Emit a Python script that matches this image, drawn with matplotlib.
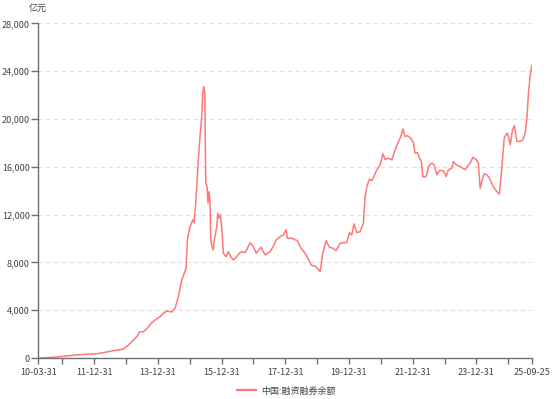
import matplotlib
matplotlib.use("Agg")
import matplotlib.pyplot as plt
import matplotlib.dates as mdates
import pandas as pd
from matplotlib.lines import Line2D

plt.rcParams['font.family'] = ['Noto Sans CJK SC', 'DejaVu Sans']

series_name = "中国:融资融券余额"
unit_label = "亿元"

dates = [
    "2010-03-31", "2010-09-19", "2010-12-24", "2011-07-22", "2012-01-30", "2012-07-01",
    "2012-12-01", "2013-01-27", "2013-03-25", "2013-05-03", "2013-06-02", "2013-07-18",
    "2013-08-26", "2013-10-22", "2013-11-29", "2014-01-25", "2014-03-04", "2014-04-12",
    "2014-06-08", "2014-07-16", "2014-08-23", "2014-10-01", "2014-11-19", "2014-12-04",
    "2015-01-04", "2015-02-04", "2015-02-19", "2015-03-10", "2015-04-09", "2015-04-28",
    "2015-05-18", "2015-05-30", "2015-06-10", "2015-06-22", "2015-07-03", "2015-07-18",
    "2015-07-29", "2015-08-10", "2015-08-21", "2015-08-29", "2015-09-13", "2015-09-28",
    "2015-10-09", "2015-11-06", "2015-11-17", "2015-12-02", "2015-12-17", "2016-01-02",
    "2016-01-21", "2016-02-21", "2016-03-18", "2016-04-15", "2016-05-15", "2016-06-23",
    "2016-07-23", "2016-08-20", "2016-09-27", "2016-11-23", "2016-12-31", "2017-01-31",
    "2017-03-26", "2017-05-14", "2017-07-10", "2017-08-17", "2017-09-17", "2017-11-01",
    "2017-12-09", "2018-01-09", "2018-01-24", "2018-03-15", "2018-05-18", "2018-06-27",
    "2018-08-15", "2018-09-22", "2018-10-23", "2018-12-19", "2019-02-03", "2019-03-06",
    "2019-04-13", "2019-05-21", "2019-06-29", "2019-08-05", "2019-09-21", "2019-10-28",
    "2019-12-06", "2020-01-05", "2020-02-01", "2020-02-27", "2020-03-29", "2020-05-06",
    "2020-06-13", "2020-07-03", "2020-07-23", "2020-08-22", "2020-09-19", "2020-10-15",
    "2020-11-15", "2020-12-23", "2021-01-23", "2021-02-18", "2021-03-16", "2021-05-06",
    "2021-06-13", "2021-07-20", "2021-08-17", "2021-09-09", "2021-10-05", "2021-11-01",
    "2021-12-10", "2022-01-08", "2022-01-27", "2022-02-23", "2022-03-17", "2022-04-09",
    "2022-04-25", "2022-05-22", "2022-06-11", "2022-06-29", "2022-08-07", "2022-09-03",
    "2022-10-04", "2022-11-03", "2022-12-18", "2023-01-18", "2023-02-13", "2023-03-24",
    "2023-04-11", "2023-05-12", "2023-06-27", "2023-08-23", "2023-09-19", "2023-10-20",
    "2023-11-23", "2023-12-31", "2024-01-23", "2024-02-12", "2024-03-02", "2024-03-28",
    "2024-04-28", "2024-05-28", "2024-07-13", "2024-08-21", "2024-09-18", "2024-10-19",
    "2024-11-14", "2024-12-15", "2025-01-02", "2025-01-22", "2025-02-17", "2025-03-11",
    "2025-04-08", "2025-05-16", "2025-06-16", "2025-07-12", "2025-08-01", "2025-08-19",
    "2025-09-07", "2025-09-25",
]

balance = [
    1, 60, 130, 280, 350, 560,
    750, 1080, 1500, 1780, 2180, 2200,
    2450, 2950, 3180, 3460, 3740, 3930,
    3850, 4160, 5130, 6530, 7510, 9880,
    11000, 11560, 11280, 12960, 16590, 18540,
    20220, 22180, 22730, 22180, 14640, 14350,
    12960, 13930, 12960, 9880, 9320, 9040,
    9880, 11000, 12120, 11700, 11980, 11000,
    8770, 8480, 8900, 8480, 8200, 8480,
    8770, 8900, 8820, 9650, 9320, 8770,
    9270, 8620, 8900, 9380, 9880, 10160,
    10300, 10720, 10020, 10020, 9820, 9190,
    8770, 8260, 7780, 7640, 7220, 8770,
    9820, 9270, 9190, 8980, 9600, 9650,
    9650, 10490, 10300, 11220, 10490, 10570,
    11280, 13510, 14350, 14970, 14850, 15250,
    15750, 16170, 17090, 16590, 16730, 16590,
    17430, 18120, 18540, 19160, 18540, 18600,
    18400, 17990, 17150, 17200, 16730, 16450,
    15190, 15140, 15330, 16030, 16310, 16170,
    15330, 15690, 15670, 15190, 15750, 15890,
    16450, 16170, 16030, 15750, 16030, 16310,
    16800, 16590, 16310, 14200, 14770, 15410,
    15330, 15060, 14300, 13930, 13720, 16030,
    18400, 18820, 18540, 17850, 19100, 19440,
    18120, 18120, 18260, 18820, 20090, 22180,
    23580, 24470,
]

yticks = [0, 4000, 8000, 12000, 16000, 20000, 24000, 28000]
xtick_dates = ["2010-03-31", "2010-12-31", "2011-12-31", "2012-12-31", "2013-12-31",
               "2014-12-31", "2015-12-31", "2016-12-31", "2017-12-31", "2018-12-31",
               "2019-12-31", "2020-12-31", "2021-12-31", "2022-12-31", "2023-12-31",
               "2024-12-31", "2025-09-25"]
xtick_labels = ["10-03-31", "", "11-12-31", "", "13-12-31", "", "15-12-31", "",
                "17-12-31", "", "19-12-31", "", "21-12-31", "", "23-12-31", "", "25-09-25"]

x = pd.to_datetime(dates)

W, H = 554, 399
fig = plt.figure(figsize=(W / 100, H / 100), dpi=100)
ax = fig.add_axes([38.3 / W, 1 - 358 / H, (531.7 - 38.3) / W, (358 - 23.4) / H])

line_color = "#FF7878"
axis_color = "#6E7079"
text_color = "#444444"

ax.plot(x, balance, color=line_color, linewidth=1.1, solid_joinstyle='round')

ax.set_xlim(pd.Timestamp("2010-03-31"), pd.Timestamp("2025-09-25"))
ax.set_ylim(0, 28000)
ax.set_yticks(yticks)
ax.set_yticklabels([f"{v:,}" for v in yticks])
ax.set_xticks(pd.to_datetime(xtick_dates))
ax.set_xticklabels(xtick_labels)

for s in ["top", "right"]:
    ax.spines[s].set_visible(False)
for s in ["left", "bottom"]:
    ax.spines[s].set_color(axis_color)
    ax.spines[s].set_linewidth(1.0)

ax.tick_params(axis='y', direction='out', length=5, width=1, color=axis_color,
               labelsize=6.5, labelcolor=text_color, pad=1)
ax.tick_params(axis='x', direction='out', length=4.5, width=1, color=axis_color,
               labelsize=6.5, labelcolor=text_color, pad=2.5)

ax.grid(axis='y', color='#E0E0E0', linestyle=(0, (4, 3)), linewidth=0.8)
ax.grid(axis='x', visible=False)
ax.set_axisbelow(True)

fig.text(37.7 / W, 1 - 8.5 / H, unit_label, ha='center', va='center',
         fontsize=6.5, color=text_color)

handle = Line2D([], [], color=line_color, linewidth=1.6)
fig.legend([handle], [series_name], loc='center', bbox_to_anchor=(286 / W, 1 - 391 / H),
           frameon=False, fontsize=6.5, handlelength=2.2, handletextpad=0.5,
           labelcolor=text_color, borderpad=0)

fig.savefig("out.png", dpi=100)
